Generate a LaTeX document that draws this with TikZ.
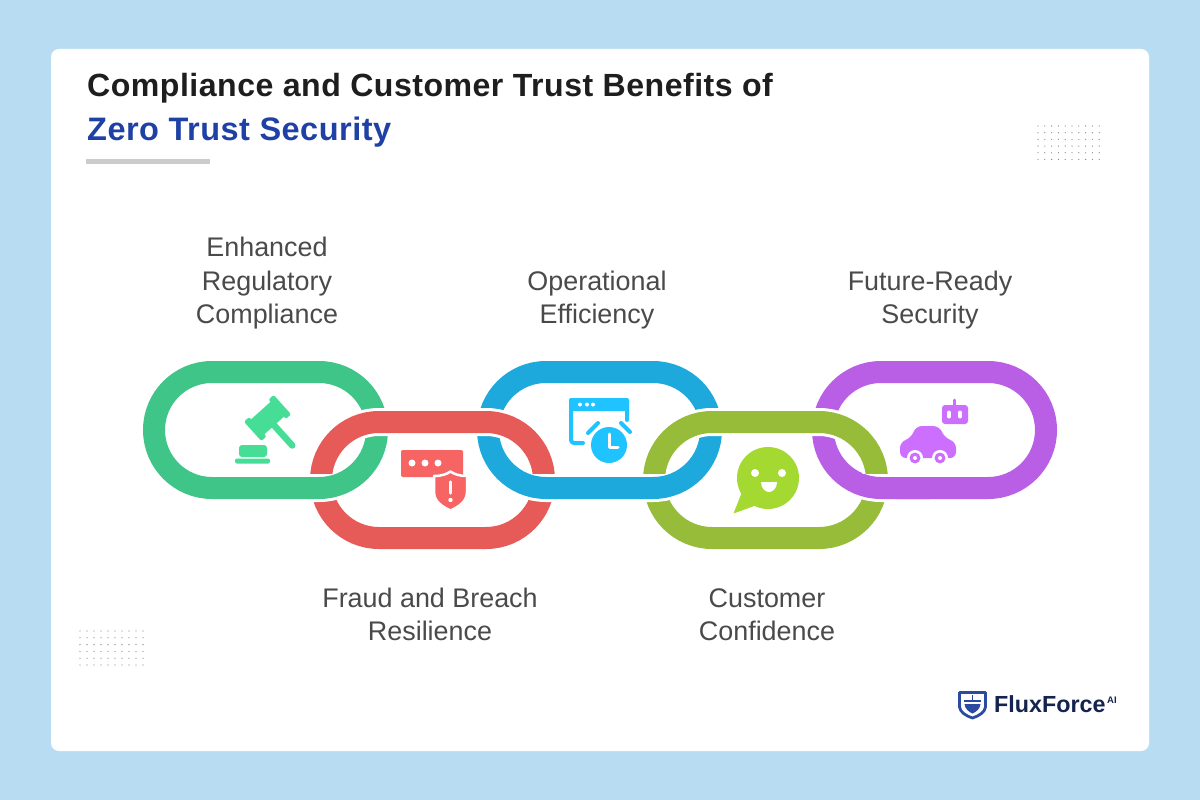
\documentclass[tikz,border=0pt]{standalone}
\usepackage{fontspec}
\setmainfont{Liberation Sans}
\newfontfamily\titlefont[LetterSpace=1.5]{Liberation Sans}
\usetikzlibrary{shapes.misc}

\definecolor{pagebg}{HTML}{B8DCF2}
\definecolor{ruleclr}{HTML}{CCCCCC}
\definecolor{titleclr}{HTML}{1E1E1E}
\definecolor{accentclr}{HTML}{1F41A5}
\definecolor{labelclr}{HTML}{4A4A4A}
\definecolor{dotclr}{HTML}{8A8A8A}
\definecolor{gavellink}{HTML}{3FC587}
\definecolor{alertlink}{HTML}{E65A57}
\definecolor{clocklink}{HTML}{1EA9DC}
\definecolor{chatlink}{HTML}{97BC3A}
\definecolor{carlink}{HTML}{B85FE5}
\definecolor{gavelicon}{HTML}{46DE96}
\definecolor{alerticon}{HTML}{F66464}
\definecolor{clockicon}{HTML}{1FC3FF}
\definecolor{chaticon}{HTML}{A4D932}
\definecolor{caricon}{HTML}{CC6FFF}
\definecolor{logoblue}{HTML}{2A4BA0}
\definecolor{logonavy}{HTML}{15244F}

\begin{document}
\begin{tikzpicture}[x=1pt,y=-1pt,node distance=167pt]
  \tikzstyle{ring}=[rounded rectangle,minimum width=223pt,minimum height=116pt,
                    inner sep=0pt,outer sep=0pt]
  \tikzstyle{chain}=[ring,draw=white,line width=3pt,double distance=22pt]
  \tikzstyle{caption}=[align=center,text=labelclr,inner sep=0pt,
                       font=\fontsize{26.9}{33.5}\selectfont]

  \useasboundingbox (0,0) rectangle (1200,800);
  \fill[pagebg] (0,0) rectangle (1200,800);
  \fill[white,rounded corners=8pt] (51,49) rectangle (1149,751);

  \node[anchor=base west,inner sep=0pt,text=titleclr,font=\titlefont\fontsize{32.1}{32}\selectfont\bfseries] (title) at (87,96) {Compliance and Customer Trust Benefits of};
  \node[anchor=base west,inner sep=0pt,text=accentclr,font=\titlefont\fontsize{32.5}{32}\selectfont\bfseries] (subtitle) at (87,140) {Zero Trust Security};
  \draw[ruleclr,line width=4.5pt] (86,161.5) -- (210,161.5);

  \foreach \i in {0,...,9}
    \foreach \j in {0,...,5} {
      \fill[dotclr] (1038+6.8*\i,126+6.7*\j) circle (0.65pt);
      \fill[dotclr] (80+7*\i,631+6.8*\j) circle (0.65pt);
    }

  % links, upper row first
  \node[chain,double=gavellink] (gavel) at (265.5,430) {};
  \node[chain,double=clocklink] (clock) at (599.5,430) {};
  \node[chain,double=carlink]   (car)   at (934.5,430) {};
  \node[chain,double=alertlink] (alert) [right of=gavel,yshift=-50pt] {};
  \node[chain,double=chatlink]  (chat)  [right of=clock,xshift=-1pt,yshift=-50pt] {};

  % upper row passes in front again along its lower bar
  \begin{scope}
    \clip (300,474) rectangle (896,506);
    \foreach \lnk in {gavel,clock,car}
      \node[ring,draw=white,line width=28pt] (\lnk halo) at (\lnk) {};
  \end{scope}
  \begin{scope}
    \clip (300,474) rectangle (930,506);
    \foreach \lnk/\clr in {gavel/gavellink,clock/clocklink,car/carlink}
      \node[ring,draw=\clr,line width=22pt] (\lnk front) at (\lnk) {};
  \end{scope}

  % gavel
  \begin{scope}[shift={(267.5,418)},rotate=42]
    \fill[gavelicon] (-15,-10) rectangle (15,10);
    \fill[gavelicon,rounded corners=2pt] (-20,-13) rectangle (-13,13);
    \fill[gavelicon,rounded corners=2pt] (13,-13) rectangle (20,13);
    \draw[gavelicon,line width=6.5pt,line cap=round] (0,8) -- (0,37);
  \end{scope}
  \fill[gavelicon,rounded corners=3pt] (239,445) rectangle (267,457);
  \fill[gavelicon,rounded corners=2pt] (235,458.5) rectangle (270,463.5);

  % alert
  \fill[alerticon,rounded corners=2pt] (401,450) rectangle (463,477);
  \foreach \x in {412,425,438}
    \fill[white] (\x,463) circle (3.5pt);
  \filldraw[alerticon,draw=white,line width=2.5pt,line join=round]
    (434,476) .. controls (442,476) and (447,474) .. (450.5,471.5)
    .. controls (454,474) and (459,476) .. (467,476) -- (467,492)
    .. controls (467,502) and (458,507) .. (450.5,510.5)
    .. controls (443,507) and (434,502) .. (434,492) -- cycle;
  \draw[white,line width=3.5pt,line cap=round] (450.5,482) -- (450.5,493);
  \fill[white] (450.5,500) circle (2.2pt);

  % clock
  \draw[clockicon,line width=4pt,line cap=round,line join=round,rounded corners=3pt]
    (627,420) -- (627,400) -- (571,400) -- (571,443) -- (583,443);
  \fill[clockicon,rounded corners=2pt] (569,398) rectangle (629,411);
  \foreach \x in {580,587,593}
    \fill[white] (\x,404.5) circle (2pt);
  \fill[clockicon] (609,445) circle (18pt);
  \draw[white,line width=3pt,line cap=round,line join=round] (609,434) -- (609,447) -- (618,447);
  \draw[clockicon,line width=4pt,line cap=round] (588,433) -- (598,423);
  \draw[clockicon,line width=4pt,line cap=round] (621,423) -- (630,432);

  % chat
  \fill[chaticon] (768,478) circle (31pt);
  \fill[chaticon] (742,492) -- (733.5,513.5) -- (757,505) -- cycle;
  \fill[white] (755,473) circle (4pt) (782,473) circle (4pt);
  \fill[white] (761,482) -- (777,482) .. controls (777,488) and (773,492) .. (769,492)
    .. controls (765,492) and (761,488) .. (761,482) -- cycle;

  % car
  \fill[caricon,rounded corners=3pt] (942,405) rectangle (968,424);
  \draw[caricon,line width=3pt,line cap=round] (954.5,400) -- (954.5,405);
  \draw[white,line width=4pt,line cap=round]
    (949,412.5) -- (949,416.5) (960,412.5) -- (960,416.5);
  \fill[caricon,rounded corners=6pt]
    (900,458) -- (900,442) -- (911,438) -- (916,426) -- (939,426) -- (945,438)
    -- (956,442) -- (956,458) -- cycle;
  \foreach \x in {915,940} {
    \fill[white] (\x,458) circle (8pt);
    \fill[caricon] (\x,458) circle (5.5pt);
    \fill[white] (\x,458) circle (2pt);
  }

  % captions
  \node[caption] (gavellabel) at (267,283.5) {Enhanced\\Regulatory\\Compliance};
  \node[caption] (clocklabel) at (597,300) {Operational\\Efficiency};
  \node[caption] (carlabel)   at (930,300) {Future-Ready\\Security};
  \node[caption] (alertlabel) at (430,614.5) {Fraud and Breach\\Resilience};
  \node[caption] (chatlabel)  at (767,614.5) {Customer\\Confidence};

  % logo
  \draw[logoblue,line width=2.8pt,line join=round]
    (959.5,692.5) -- (985.5,692.5) -- (985.5,707) .. controls (985,712) and (979,716) .. (972.5,718)
    .. controls (966,716) and (960,712) .. (959.5,707) -- cycle;
  \draw[logoblue,line width=1.6pt] (964,701) -- (981,701) (972.5,695) -- (972.5,701);
  \fill[logoblue] (964.5,704) -- (980.5,704) .. controls (980,709) and (976,712) .. (972.5,713.5)
    .. controls (969,712) and (965,709) .. (964.5,704) -- cycle;
  \node[anchor=base west,inner sep=0pt,text=logonavy,font=\fontsize{23.3}{23}\selectfont\bfseries] (logotext) at (994,712.5) {FluxForce};
  \node[anchor=base west,inner sep=0pt,text=logonavy,font=\fontsize{9.5}{9.5}\selectfont\bfseries] (logoai) at (1107,703.5) {AI};
\end{tikzpicture}
\end{document}
